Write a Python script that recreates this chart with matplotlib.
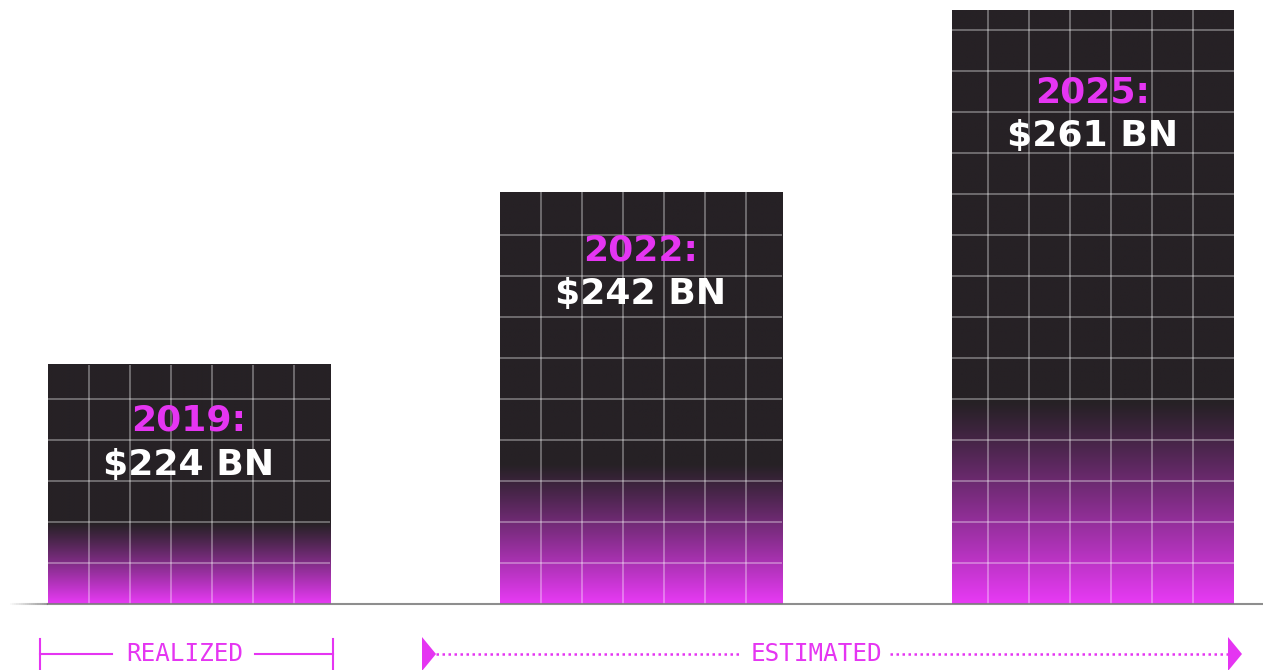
import numpy as np
import matplotlib
matplotlib.use('Agg')
import matplotlib.pyplot as plt
from matplotlib.patches import Polygon
from matplotlib.collections import LineCollection
from matplotlib.colors import to_rgb

# ---------------- data ----------------
years = ['2019', '2022', '2025']
values = [224, 242, 261]
value_labels = [r'\$224 BN', r'\$242 BN', r'\$261 BN']
period_labels = ['REALIZED', 'ESTIMATED']

# ---------------- style ----------------
W, H, DPI = 1263, 670, 100
DARK = '#262125'
MAGENTA = '#e83af5'
LABEL_MAGENTA = '#e535f2'
GRID_ALPHA = 0.42

fig = plt.figure(figsize=(W / DPI, H / DPI), dpi=DPI)
fig.patch.set_facecolor('white')
ax = fig.add_axes([0, 0, 1, 1])
ax.set_axis_off()

y_px = 9.58           # pixels per value unit
x_px = 452.0          # pixels per category step
base = 199.0          # value at the baseline
base_from_bottom = 66  # px
y_lo = base - base_from_bottom / y_px
y_hi = base + (H - base_from_bottom) / y_px
x_lo = -188.5 / x_px
x_hi = x_lo + W / x_px

bar_w = 282 / x_px
cell_x = 41 / x_px
cell_y = 41 / y_px
anchor_right = [False, False, True]
label_offset_px = [56, 58, 82]
line_gap_px = 44
FS = 26

dark = np.array(to_rgb(DARK))
mag = np.array(to_rgb(MAGENTA))

for i, (yr, v, vl) in enumerate(zip(years, values, value_labels)):
    x0, x1 = i - bar_w / 2, i + bar_w / 2
    n = 400
    t = np.linspace(0, 1, n)  # 0 = bottom, 1 = top
    g = np.clip(1 - t / 0.34, 0, 1)
    g = g ** 1.1
    cols = dark[None, :] * (1 - g[:, None]) + mag[None, :] * g[:, None]
    img = cols[:, None, :]
    ax.imshow(img, extent=[x0, x1, base, v], origin='lower', aspect='auto',
              interpolation='bilinear', zorder=2)
    # grid
    segs = []
    k = 1
    while base + k * cell_y < v - 0.3:
        yy = base + k * cell_y
        segs.append([(x0, yy), (x1, yy)])
        k += 1
    k = 1
    while k * cell_x < bar_w - 0.01:
        xx = (x1 - k * cell_x) if anchor_right[i] else (x0 + k * cell_x)
        segs.append([(xx, base), (xx, v)])
        k += 1
    ax.add_collection(LineCollection(segs, colors='white', alpha=GRID_ALPHA,
                                     linewidths=1.1, zorder=3))
    # labels
    y1 = v - label_offset_px[i] / y_px
    y2 = y1 - line_gap_px / y_px
    ax.text(i, y1, yr + ':', color=LABEL_MAGENTA, fontsize=FS,
            fontweight='heavy', family='DejaVu Sans', ha='center', va='center',
            zorder=5)
    ax.text(i, y2, vl, color='white', fontsize=FS, fontweight='heavy',
            family='DejaVu Sans', ha='center', va='center', zorder=5)

ax.set_xlim(x_lo, x_hi)
ax.set_ylim(y_lo, y_hi)

# ---------------- baseline ----------------
def F(x, y):
    """pixel (from top-left) -> figure fraction"""
    return (x / W, 1 - y / H)

tf = fig.transFigure
bx = np.linspace(8, 48, 20)
fade = [[F(bx[j], 604), F(bx[j + 1], 604)] for j in range(len(bx) - 1)]
fade_alpha = np.linspace(0.0, 0.8, len(fade))
fade_cols = [(0.5, 0.5, 0.5, a) for a in fade_alpha]
fig.add_artist(LineCollection(fade, colors=fade_cols, linewidths=1.5,
                              transform=tf, zorder=6))
fig.add_artist(plt.Line2D([48 / W, 1], [1 - 604 / H] * 2, color='#7a7a7a',
                          lw=1.5, alpha=0.85, transform=tf, zorder=6))

# ---------------- period annotations ----------------
ann_y = 654
ann_kw = dict(color=LABEL_MAGENTA, fontsize=17.5, family='DejaVu Sans Mono',
              ha='center', va='center', transform=tf)

# realized bracket
fig.add_artist(plt.Line2D([40 / W, 112 / W], [1 - ann_y / H] * 2,
                          color=LABEL_MAGENTA, lw=1.5, transform=tf))
fig.add_artist(plt.Line2D([255 / W, 333 / W], [1 - ann_y / H] * 2,
                          color=LABEL_MAGENTA, lw=1.5, transform=tf))
for xx in (40, 333):
    fig.add_artist(plt.Line2D([xx / W, xx / W], [1 - 639 / H, 0],
                              color=LABEL_MAGENTA, lw=1.5, transform=tf))
fig.text(*F(185, ann_y), period_labels[0], **ann_kw)

# estimated arrow
for xa, xb in ((436, 742), (890, 1228)):
    fig.add_artist(plt.Line2D([xa / W, xb / W], [1 - ann_y / H] * 2,
                              color=LABEL_MAGENTA, lw=1.8,
                              linestyle=(0, (1, 1.4)), transform=tf))
for xl in (422, 1228):
    fig.add_artist(Polygon([F(xl, 637), F(xl + 14, ann_y), F(xl, 671)],
                           closed=True, facecolor=LABEL_MAGENTA,
                           edgecolor='none', transform=tf))
fig.text(*F(816, ann_y), period_labels[1], **ann_kw)

fig.savefig('out.png', dpi=DPI, facecolor='white')
